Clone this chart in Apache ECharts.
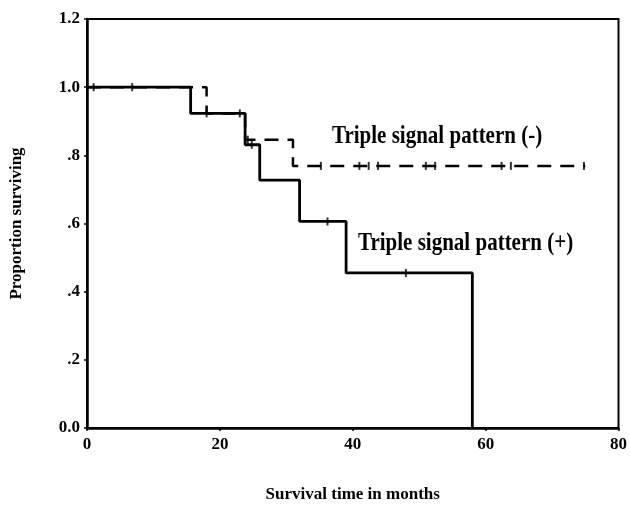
<!DOCTYPE html>
<html>
<head>
<meta charset="utf-8">
<script src="https://cdn.jsdelivr.net/npm/echarts@6/dist/echarts.min.js"></script>
<style>
  html, body { margin: 0; padding: 0; background: #fff; }
  #main { width: 630px; height: 508px; }
</style>
</head>
<body>
<div id="main"></div>
<script>
  // survival curves, [month, proportion] at each drop
  var posSteps = [[0, 1.0], [15.6, 0.923], [23.8, 0.831], [26.0, 0.727], [32.0, 0.606], [39.0, 0.455], [58.0, 0.0]]
  var negSteps = [[0, 1.0], [18.0, 0.923], [23.8, 0.846], [31.0, 0.769], [75.0, 0.769]]
  // censored cases
  var posCensor = [[1.0, 1.0], [6.8, 1.0], [18.0, 0.923], [23.0, 0.923], [24.8, 0.831], [36.2, 0.606], [48.0, 0.455]]
  var negCensor = [[24.2, 0.846], [35.2, 0.769], [41.0, 0.769], [42.4, 0.769], [43.8, 0.769], [51.0, 0.769], [52.4, 0.769], [62.4, 0.769], [63.8, 0.769], [74.8, 0.769]]
  var yTicks = ['0.0', '.2', '.4', '.6', '.8', '1.0', '1.2']

  var serif = '"Liberation Serif", "DejaVu Serif", serif'
  var chart = echarts.init(document.getElementById('main'))

  chart.setOption({
    animation: false,
    grid: {
      left: 82, right: 9, top: 19, bottom: 77,
      show: true, borderColor: '#000', borderWidth: 2
    },
    xAxis: {
      type: 'value', min: 0, max: 80, interval: 20,
      name: 'Survival time in months',
      nameLocation: 'middle', nameGap: 58,
      nameTextStyle: { fontFamily: serif, fontWeight: 'bold', fontSize: 17, color: '#000' },
      axisLine: { lineStyle: { color: '#000', width: 2.5 } },
      axisTick: { length: 3, lineStyle: { color: '#000', width: 1.5 } },
      axisLabel: { fontFamily: serif, fontWeight: 'bold', fontSize: 17, color: '#000', margin: 8 },
      splitLine: { show: false }
    },
    yAxis: {
      type: 'value', min: 0, max: 1.2, interval: 0.2,
      name: 'Proportion surviving',
      nameLocation: 'middle', nameGap: 62,
      nameTextStyle: { fontFamily: serif, fontWeight: 'bold', fontSize: 17, color: '#000' },
      axisLine: { lineStyle: { color: '#000', width: 2.5 } },
      axisTick: { length: 3, lineStyle: { color: '#000', width: 1.5 } },
      axisLabel: {
        fontFamily: serif, fontWeight: 'bold', fontSize: 17, color: '#000', margin: 7,
        formatter: function (v) { return yTicks[Math.round(v / 0.2)] }
      },
      splitLine: { show: false }
    },
    series: [
      {
        name: 'Triple signal pattern (-)',
        type: 'line', step: 'end', data: negSteps,
        showSymbol: false, silent: true,
        lineStyle: { color: '#000', width: 2.5, type: [14, 9] }
      },
      {
        name: 'Triple signal pattern (+)',
        type: 'line', step: 'end', data: posSteps,
        showSymbol: false, silent: true,
        lineStyle: { color: '#000', width: 2.8 }
      },
      {
        type: 'scatter', data: negCensor,
        symbol: 'rect', symbolSize: [2, 8],
        itemStyle: { color: '#000' }
      },
      {
        type: 'scatter', data: posCensor,
        symbol: 'rect', symbolSize: [2, 8],
        itemStyle: { color: '#000' }
      }
    ],
    graphic: [
      {
        type: 'text', x: 332, y: 137, scaleY: 1.15,
        style: { text: 'Triple signal pattern (-)', font: 'bold 21px ' + serif, fill: '#000', verticalAlign: 'middle' }
      },
      {
        type: 'text', x: 358, y: 244, scaleY: 1.15,
        style: { text: 'Triple signal pattern (+)', font: 'bold 21px ' + serif, fill: '#000', verticalAlign: 'middle' }
      }
    ]
  })
</script>
</body>
</html>
